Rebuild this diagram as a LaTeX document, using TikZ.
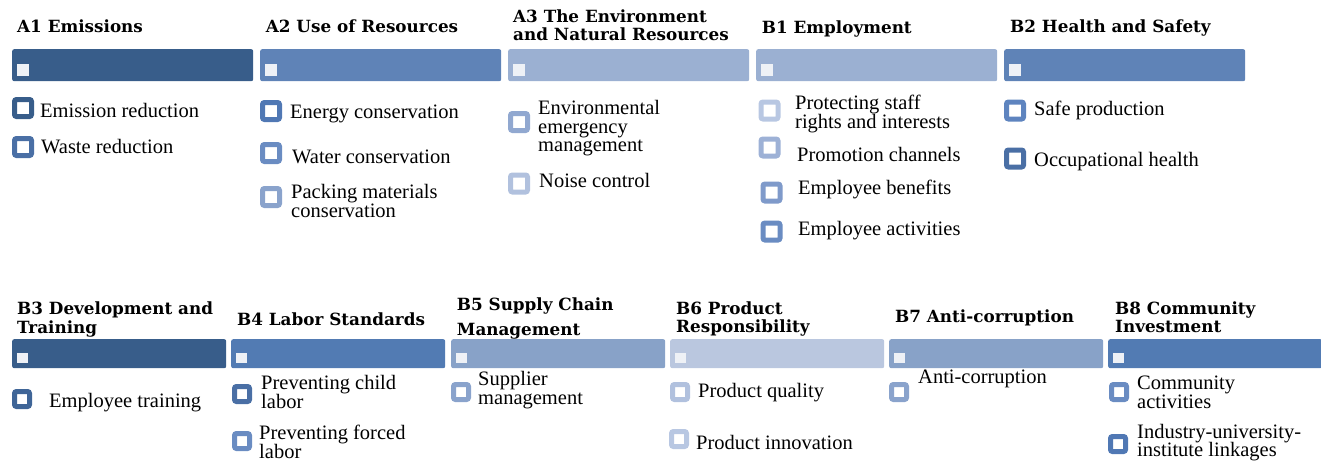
\documentclass[tikz,border=0pt]{standalone}
\usepackage{fontspec}
\setmainfont{Liberation Serif}
\newfontfamily\headfont{DejaVu Serif}
\usetikzlibrary{positioning}

\definecolor{barDark}{HTML}{385D8A}
\definecolor{barMid}{HTML}{5F83B7}
\definecolor{barLight}{HTML}{9BB0D2}
\definecolor{barRowMid}{HTML}{527BB3}
\definecolor{barRowLight}{HTML}{88A2C8}
\definecolor{barPale}{HTML}{BAC7DF}
\definecolor{markFill}{HTML}{EEF1F6}
% shades of the item boxes
\definecolor{tone1}{HTML}{3F6597}
\definecolor{tone2}{HTML}{4A6FA5}
\definecolor{tone3}{HTML}{5078B4}
\definecolor{tone4}{HTML}{5E84BF}
\definecolor{tone5}{HTML}{6A8CC2}
\definecolor{tone6}{HTML}{7F9ACA}
\definecolor{tone7}{HTML}{8AA3CC}
\definecolor{tone8}{HTML}{91A8D0}
\definecolor{tone9}{HTML}{9DB1D6}
\definecolor{tone10}{HTML}{B1C1DE}
\definecolor{tone11}{HTML}{B8C7E2}

\tikzset{
  groupbar/.style={rectangle, rounded corners=2pt, inner sep=0pt, minimum width=241pt,
                   minimum height=32pt, anchor=north west},
  shortbar/.style={groupbar, minimum width=214pt, minimum height=29pt},
  barmark/.style={rectangle, fill=markFill, inner sep=0pt, minimum width=12pt,
                  minimum height=12pt, anchor=south west},
  smallmark/.style={barmark, minimum width=11pt, minimum height=10pt},
  tickbox/.style={rectangle, rounded corners=2pt, line width=5pt, fill=white,
                  inner sep=0pt, minimum size=17pt},
  smallbox/.style={tickbox, minimum size=15pt},
  heading/.style={anchor=base west, inner sep=0pt, align=left,
                  font=\headfont\fontsize{16.8}{18.7}\selectfont\bfseries},
  itemtext/.style={anchor=base west, inner sep=0pt, align=left,
                   font=\fontsize{20.5}{18.7}\selectfont}
}
\newcommand{\groupbar}[2]{node (b#1) [groupbar, fill=#2] {}}
\newcommand{\shortbar}[2]{node (b#1) [shortbar, fill=#2] {}}
\newcommand{\tickbox}[2]{node (k#1) [tickbox, draw=#2] {}}
\newcommand{\smallbox}[2]{node (k#1) [smallbox, draw=#2] {}}

\begin{document}
\begin{tikzpicture}[x=1pt,y=-1pt]
  \useasboundingbox (0,0) rectangle (1321,464);

  % Draw the bars of the first row
  \path (12,49) \groupbar{A1}{barDark};
  \path (260,49) \groupbar{A2}{barMid};
  \path (508,49) \groupbar{A3}{barLight};
  \path (756,49) \groupbar{B1}{barLight};
  \path (1004,49) \groupbar{B2}{barMid};

  % Draw the bars of the second row
  \path (12,339) \shortbar{B3}{barDark};
  \path (231,339) \shortbar{B4}{barRowMid};
  \path (451,339) \shortbar{B5}{barRowLight};
  \path (670,339) \shortbar{B6}{barPale};
  \path (889,339) \shortbar{B7}{barRowLight};
  \path (1108,339) \shortbar{B8}{barRowMid};

  % Small marks inside the bars
  \path (bA1.south west)+(5,-5) node (mA1) [barmark] {};
  \path (bA2.south west)+(5,-5) node (mA2) [barmark] {};
  \path (bA3.south west)+(5,-5) node (mA3) [barmark] {};
  \path (bB1.south west)+(5,-5) node (mB1) [barmark] {};
  \path (bB2.south west)+(5,-5) node (mB2) [barmark] {};
  \path (bB3.south west)+(5,-5) node (mB3) [smallmark] {};
  \path (bB4.south west)+(5,-5) node (mB4) [smallmark] {};
  \path (bB5.south west)+(5,-5) node (mB5) [smallmark] {};
  \path (bB6.south west)+(5,-5) node (mB6) [smallmark] {};
  \path (bB7.south west)+(5,-5) node (mB7) [smallmark] {};
  \path (bB8.south west)+(5,-5) node (mB8) [smallmark] {};

  % Headings (multi-line ones sit on their last baseline)
  \node[heading] (hA1) at (17,32.3) {A1 Emissions};
  \node[heading] (hA2) at (265.7,32.3) {A2 Use of Resources};
  \node[heading] (hA3) at (513,40.7) {A3 The Environment\\and Natural Resources};
  \node[heading] (hB1) at (761.7,33) {B1 Employment};
  \node[heading] (hB2) at (1010,32) {B2 Health and Safety};
  \node[heading] (hB3) at (17,333.3) {B3 Development and\\Training};
  \node[heading] (hB4) at (237,325) {B4 Labor Standards};
  \node[heading] (hB5) at (456.7,335) {B5 Supply Chain\\[6.3pt]Management};
  \node[heading] (hB6) at (676,332.7) {B6 Product\\Responsibility};
  \node[heading] (hB7) at (895,322.7) {B7 Anti-corruption};
  \node[heading] (hB8) at (1115,332.7) {B8 Community\\Investment};

  % Items of A1 and A2
  \path (23,108) \tickbox{A1a}{barDark};
  \node[itemtext] (tA1a) at (40,117.3) {Emission reduction};
  \path (23,147) \tickbox{A1b}{tone2};
  \node[itemtext] (tA1b) at (41,153) {Waste reduction};
  \path (271,111) \tickbox{A2a}{tone3};
  \node[itemtext] (tA2a) at (290,118.3) {Energy conservation};
  \path (271,153) \tickbox{A2b}{tone5};
  \node[itemtext] (tA2b) at (292,163) {Water conservation};
  \path (271,197) \tickbox{A2c}{tone7};
  \node[itemtext] (tA2c) at (291,217) {Packing materials\\conservation};

  % Items of A3, B1 and B2
  \path (519,122) \tickbox{A3a}{tone8};
  \node[itemtext] (tA3a) at (538,151.7) {Environmental\\emergency\\management};
  \path (519,183.5) \tickbox{A3b}{tone10};
  \node[itemtext] (tA3b) at (539,187) {Noise control};
  \path (769.5,110.5) \tickbox{B1a}{tone11};
  \node[itemtext] (tB1a) at (795,128) {Protecting staff\\rights and interests};
  \path (769.5,147.5) \tickbox{B1b}{tone9};
  \node[itemtext] (tB1b) at (797,161) {Promotion channels};
  \path (771.5,192.5) \tickbox{B1c}{tone6};
  \node[itemtext] (tB1c) at (798,194) {Employee benefits};
  \path (771.5,231.5) \tickbox{B1d}{tone5};
  \node[itemtext] (tB1d) at (798,235) {Employee activities};
  \path (1015,110.5) \tickbox{B2a}{tone4};
  \node[itemtext] (tB2a) at (1034,115.7) {Safe production};
  \path (1015,158.5) \tickbox{B2b}{tone2};
  \node[itemtext] (tB2b) at (1034,166.7) {Occupational health};

  % Items of the second row
  \path (22,399) \smallbox{B3a}{tone1};
  \node[itemtext] (tB3a) at (49,407.3) {Employee training};
  \path (242,394) \smallbox{B4a}{tone2};
  \node[itemtext] (tB4a) at (261,408) {Preventing child\\labor};
  \path (242,441) \smallbox{B4b}{tone5};
  \node[itemtext] (tB4b) at (259,458) {Preventing forced\\labor};
  \path (461,392) \smallbox{B5a}{tone7};
  \node[itemtext] (tB5a) at (478,404) {Supplier\\management};
  \path (680,392) \smallbox{B6a}{tone10};
  \node[itemtext] (tB6a) at (698,397.3) {Product quality};
  \path (679,439) \smallbox{B6b}{tone11};
  \node[itemtext] (tB6b) at (696,449.3) {Product innovation};
  \path (899,392) \smallbox{B7a}{tone7};
  \node[itemtext] (tB7a) at (918,383.3) {Anti-corruption};
  \path (1119,392) \smallbox{B8a}{tone5};
  \node[itemtext] (tB8a) at (1137,408.3) {Community\\activities};
  \path (1118,444) \smallbox{B8b}{tone3};
  \node[itemtext] (tB8b) at (1137,456.7) {Industry-university-\\institute linkages};
\end{tikzpicture}
\end{document}
